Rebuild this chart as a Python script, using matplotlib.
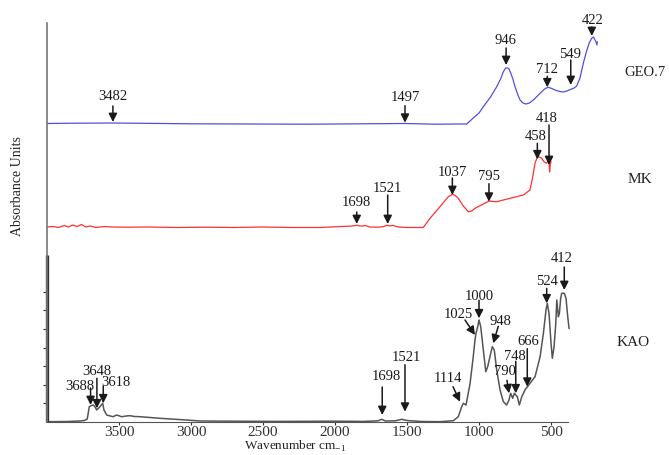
import numpy as np
import matplotlib.pyplot as plt

plt.rcParams['font.family'] = ['Liberation Serif', 'DejaVu Serif']
plt.rcParams['mathtext.fontset'] = 'custom'
plt.rcParams['mathtext.rm'] = 'Liberation Serif'

# ---------------- spectra (wavenumber, absorbance units) ----------------
geo_wn = [4000, 3800, 3542, 3200, 3000, 2600, 2200, 2000, 1800, 1514, 1300, 1150,
          1085, 1040, 1000, 970, 920, 877, 850, 831, 815, 800, 790, 780, 765, 750,
          730, 715, 695, 674, 650, 623, 595, 565, 540, 519, 495, 472, 440, 415,
          390, 363, 340, 322, 299, 276, 255, 235, 218, 205, 195, 187, 182, 178]
geo_abs = [2.985, 2.988, 2.99, 2.985, 2.982, 2.98, 2.978, 2.98, 2.982, 2.985, 2.978, 2.98,
           2.98, 3.04, 3.09, 3.153, 3.25, 3.353, 3.43, 3.503, 3.54, 3.54, 3.525, 3.49, 3.43, 3.353,
           3.27, 3.22, 3.19, 3.18, 3.19, 3.22, 3.26, 3.303, 3.335, 3.347, 3.335, 3.32, 3.305, 3.30,
           3.31, 3.327, 3.34, 3.36, 3.44, 3.587, 3.70, 3.79, 3.837, 3.85, 3.82, 3.80, 3.77, 3.80]

mk_wn = [4000, 3960, 3920, 3880, 3850, 3820, 3790, 3760, 3730, 3700, 3660, 3600,
         3550, 3450, 3300, 3100, 2900, 2700, 2500, 2300, 2100, 1950, 1880, 1849,
         1820, 1790, 1760, 1700, 1660, 1640, 1620, 1600, 1560, 1500, 1450, 1387,
         1340, 1271, 1213, 1185, 1165, 1144, 1109, 1074, 1050, 1028, 970, 931,
         900, 877, 785, 692, 646, 627, 611, 595, 588, 575, 565, 549, 530, 519,
         514, 510, 505, 500]
mk_abs = [1.95, 1.955, 1.945, 1.965, 1.95, 1.97, 1.955, 1.975, 1.95, 1.96, 1.945, 1.955,
          1.95, 1.948, 1.95, 1.945, 1.948, 1.945, 1.95, 1.945, 1.945, 1.955, 1.96, 1.968,
          1.958, 1.965, 1.95, 1.948, 1.955, 1.968, 1.96, 1.966, 1.95, 1.945, 1.945, 1.945,
          2.037, 2.153, 2.253, 2.277, 2.265, 2.237, 2.16, 2.103, 2.11, 2.137, 2.18, 2.21,
          2.205, 2.203, 2.237, 2.27, 2.32, 2.453, 2.587, 2.65, 2.653, 2.645, 2.637, 2.603, 2.587, 2.62,
          2.60, 2.50, 2.58, 2.603]

kao_wn = [4000, 3850, 3771, 3740, 3720, 3706, 3690, 3678, 3665, 3655, 3640, 3632,
          3613, 3604, 3585, 3560, 3540, 3516, 3481, 3450, 3424, 3390, 3354, 3215,
          3030, 2938, 2700, 2400, 2000, 1800, 1700, 1676, 1650, 1580, 1537, 1500,
          1400, 1271, 1178, 1144, 1120, 1109, 1090, 1062, 1040, 1028, 1021, 1009,
          1000, 988, 970, 953, 940, 924, 908, 894, 877, 854, 831, 808,
          792, 780, 766, 755, 734, 720, 703, 681, 646, 611, 576, 553,
          535, 526, 514, 500, 491, 479, 467, 460, 449, 442, 433, 426,
          408, 396, 384, 375]
kao_abs = [0.003, 0.005, 0.01, 0.015, 0.03, 0.153, 0.165, 0.17, 0.15, 0.12, 0.14, 0.153,
           0.187, 0.12, 0.07, 0.06, 0.053, 0.07, 0.053, 0.06, 0.063, 0.055, 0.053, 0.037,
           0.02, 0.01, 0.008, 0.006, 0.008, 0.006, 0.012, 0.027, 0.01, 0.012, 0.027, 0.015,
           0.005, 0.003, 0.013, 0.053, 0.153, 0.187, 0.17, 0.387, 0.653, 0.82, 0.887, 0.953,
           1.02, 0.953, 0.72, 0.503, 0.553, 0.653, 0.753, 0.72, 0.52, 0.32, 0.203, 0.17,
           0.22, 0.287, 0.237, 0.287, 0.253, 0.17, 0.253, 0.32, 0.387, 0.453, 0.653, 0.887,
           1.12, 1.187, 1.087, 0.787, 0.637, 0.753, 0.987, 1.22, 1.053, 1.087, 1.237, 1.287,
           1.287, 1.237, 1.053, 0.937]

# peak labels: text, arrow tip (wavenumber, absorbance), arrow tail offset (px), text offset (px)
geo_peaks = ['3482', '1497', '946', '712', '549', '422']
geo_tip_wn = [3542, 1514, 812, 526, 363, 217]
geo_tip_abs = [3.00, 2.993, 3.57, 3.347, 3.37, 3.86]
geo_tail = [(0, 16), (0, 17), (0, 17), (0, 11), (0, 25), (0, 9)]
geo_txt = [(0, 25), (0, 25), (-1, 24), (0, 18), (-1, 30), (1, 15)]

mk_peaks = ['1698', '1521', '1037', '795', '458', '418']
mk_tip_wn = [1849, 1634, 1185, 931, 595, 514]
mk_tip_abs = [1.98, 1.98, 2.27, 2.203, 2.627, 2.57]
mk_tail = [(0, 12), (0, 29), (0, 17), (0, 18), (0, 16), (0, 40)]
mk_txt = [(0, 22), (0, 36), (0, 23), (0, 25), (-2, 23), (-2, 46)]

kao_peaks = ['3688', '3648', '3618', '1698', '1521', '1114', '1025', '1000',
             '948', '790', '748', '666', '524', '412']
kao_tip_wn = [3697, 3653, 3609, 1672, 1514, 1132, 1028, 1000, 901, 792, 745, 665, 530, 408]
kao_tip_abs = [0.17, 0.137, 0.187, 0.07, 0.103, 0.203, 0.87, 1.037, 0.787, 0.287, 0.287,
               0.353, 1.187, 1.32]
kao_tail = [(0, 17), (0, 30), (0, 17), (0, 28), (0, 47), (-7, 15), (-10, 15), (0, 18),
            (5, 17), (-2, 13), (0, 32), (0, 38), (0, 15), (0, 23)]
kao_txt = [(-11, 19), (0, 37), (13, 21), (4, 39), (1, 54), (-12, 23), (-17, 21), (0, 22),
           (7, 22), (-4, 22), (-1, 37), (1, 45), (0, 22), (-3, 31)]

xticks = [3500, 3000, 2500, 2000, 1500, 1000, 500]

# ---------------- figure ----------------
W, H = 669, 455
fig = plt.figure(figsize=(W / 100, H / 100), dpi=100)
ax = fig.add_axes([46.5 / W, 33 / H, (600 - 46.5) / W, (422 - 23) / H])
ax.set_xlim(4003, 160)
ax.set_ylim(0, 3.99)

ax.plot(geo_wn, geo_abs, color='#5050e0', lw=0.9)
ax.plot(mk_wn, mk_abs, color='#ff3030', lw=0.9)
ax.plot(kao_wn, kao_abs, color='#555555', lw=1.1)


def mark_peaks(labels, tip_wn, tip_abs, tails, txts):
    for lab, w, a, tl, tx in zip(labels, tip_wn, tip_abs, tails, txts):
        ax.annotate('', xy=(w, a), xytext=tl, textcoords='offset pixels',
                    arrowprops=dict(arrowstyle='-|>,head_length=0.5,head_width=0.25',
                                    color='#1a1a1a', lw=1.1, shrinkA=0, shrinkB=0,
                                    mutation_scale=10))
        ax.annotate(lab, xy=(w, a), xytext=tx, textcoords='offset pixels',
                    ha='center', va='center', fontsize=10.5, color='#1a1a1a')


mark_peaks(geo_peaks, geo_tip_wn, geo_tip_abs, geo_tail, geo_txt)
mark_peaks(mk_peaks, mk_tip_wn, mk_tip_abs, mk_tail, mk_txt)
mark_peaks(kao_peaks, kao_tip_wn, kao_tip_abs, kao_tail, kao_txt)

# axes styling
for s in ['top', 'right']:
    ax.spines[s].set_visible(False)
ax.spines['bottom'].set_bounds(382, 4003)
ax.spines['bottom'].set_color('#555555')
ax.spines['left'].set_color('#777777')
ax.spines['left'].set_linewidth(1.2)
ax.plot([4003, 4003], [0, 1.67], color='#333333', lw=2.4, clip_on=False,
        solid_capstyle='butt')

ax.set_xticks(xticks)
ax.set_xticklabels([str(t) for t in xticks])
ax.tick_params(axis='x', direction='out', length=2.5, width=0.8, colors='#333333',
               labelsize=11, pad=0.5)
ax.set_yticks(np.arange(1, 8) * 0.186)
ax.set_yticklabels([])
ax.tick_params(axis='y', direction='out', length=3, width=0.8, colors='#333333')

fig.text(295 / W, 1 - 446 / H, r'Wavenumber cm$_{\mathrm{-1}}$', ha='center', va='center',
         fontsize=9.5, color='#222222')
fig.text(18 / W, 1 - 186 / H, 'Absorbance Units', rotation=90, ha='center', va='center',
         fontsize=10, color='#222222')

fig.text(624 / W, 1 - 73 / H, 'GEO.7', ha='left', va='center', fontsize=10.5, color='#222222')
fig.text(628 / W, 1 - 180 / H, 'MK', ha='left', va='center', fontsize=11, color='#222222')
fig.text(617 / W, 1 - 343 / H, 'KAO', ha='left', va='center', fontsize=11, color='#222222')

fig.savefig('out.png', dpi=100)
